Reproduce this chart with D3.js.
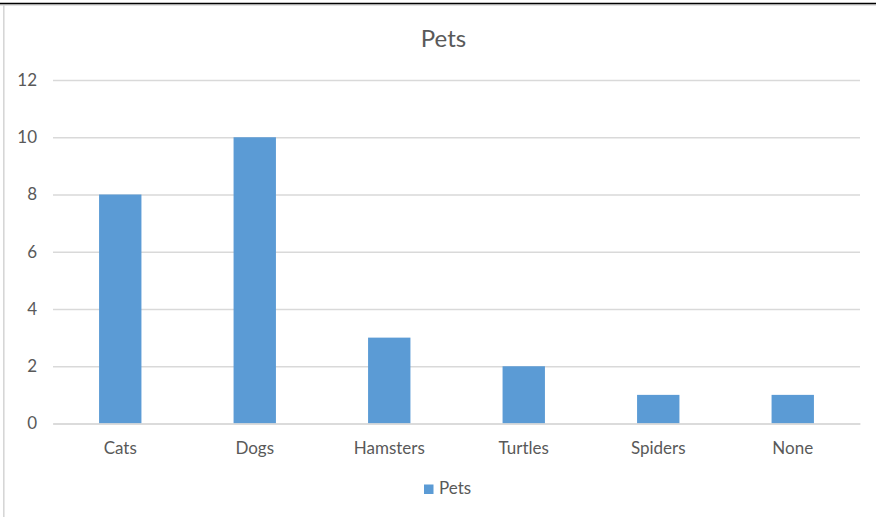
<!DOCTYPE html>
<html lang="en">
  <head>
    <meta charset="UTF-8" />
    <title>Pets</title>
    <style>
      body {
        margin: 0;
        padding: 0;
        background-color: #ffffff;
      }
      svg {
        display: block;
        font-family: Lato, "Open Sans", sans-serif;
      }
      .axis {
        font-family: Lato, "Open Sans", sans-serif;
      }
      .axis text {
        fill: #595959;
        font-size: 17px;
      }
    </style>
  </head>
  <body>
    <div id="chart"></div>

    <script src="https://d3js.org/d3.v7.min.js"></script>
    <script>
      const categories = ["Cats", "Dogs", "Hamsters", "Turtles", "Spiders", "None"];
      const petCounts = [8, 10, 3, 2, 1, 1];
      const yTicks = [0, 2, 4, 6, 8, 10, 12];
      const seriesName = "Pets";

      const width = 876,
        height = 517;
      const plot = { left: 53, right: 860, top: 80, bottom: 423.5 };

      const svg = d3
        .select("#chart")
        .append("svg")
        .attr("width", width)
        .attr("height", height);

      // frame lines of the cropped screenshot
      svg.append("line")
        .attr("x1", 3.8).attr("x2", 3.8).attr("y1", 5).attr("y2", height)
        .attr("stroke", "#d4d4d4").attr("stroke-width", 1.5);
      svg.append("line")
        .attr("x1", 0).attr("x2", width).attr("y1", 5).attr("y2", 5)
        .attr("stroke", "#d9d9d9").attr("stroke-width", 1.5);
      svg.append("line")
        .attr("x1", 0).attr("x2", width).attr("y1", 3.5).attr("y2", 3.5)
        .attr("stroke", "#000").attr("stroke-width", 1.5);

      const x = d3
        .scaleBand()
        .domain(categories)
        .range([plot.left, plot.right])
        .paddingInner(0.685)
        .paddingOuter(0.3425);

      const y = d3.scaleLinear().domain([0, 12]).range([plot.bottom, plot.top]);

      // y axis + gridlines
      const yAxis = svg
        .append("g")
        .attr("class", "axis")
        .attr("transform", `translate(${plot.left},0)`)
        .call(
          d3.axisLeft(y)
            .tickValues(yTicks)
            .tickSizeInner(-(plot.right - plot.left))
            .tickSizeOuter(0)
            .tickPadding(16)
        );
      yAxis.select(".domain").remove();
      yAxis.selectAll(".tick line").attr("stroke", "#d9d9d9").attr("stroke-width", 1.3);

      // bars
      svg
        .selectAll("rect.bar")
        .data(petCounts)
        .enter()
        .append("rect")
        .attr("class", "bar")
        .attr("x", (d, i) => x(categories[i]))
        .attr("y", (d) => y(d))
        .attr("width", x.bandwidth())
        .attr("height", (d) => y(0) - y(d))
        .style("fill", "#5b9bd5");

      // x axis
      const xAxis = svg
        .append("g")
        .attr("class", "axis")
        .attr("transform", `translate(0,${plot.bottom})`)
        .call(d3.axisBottom(x).tickSize(0));
      xAxis.select(".domain").attr("stroke", "#d9d9d9").attr("stroke-width", 1.3);
      xAxis.selectAll(".tick text").attr("y", 30.5).attr("dy", 0);

      // title
      svg
        .append("text")
        .attr("x", 443.5)
        .attr("y", 47)
        .attr("text-anchor", "middle")
        .style("font-size", "24px")
        .style("fill", "#595959")
        .text(seriesName);

      // legend
      svg
        .append("rect")
        .attr("x", 424)
        .attr("y", 484.5)
        .attr("width", 9.5)
        .attr("height", 9.5)
        .style("fill", "#5b9bd5");
      svg
        .append("text")
        .attr("x", 439)
        .attr("y", 493.5)
        .style("font-size", "17px")
        .style("fill", "#595959")
        .text(seriesName);
    </script>
  </body>
</html>
